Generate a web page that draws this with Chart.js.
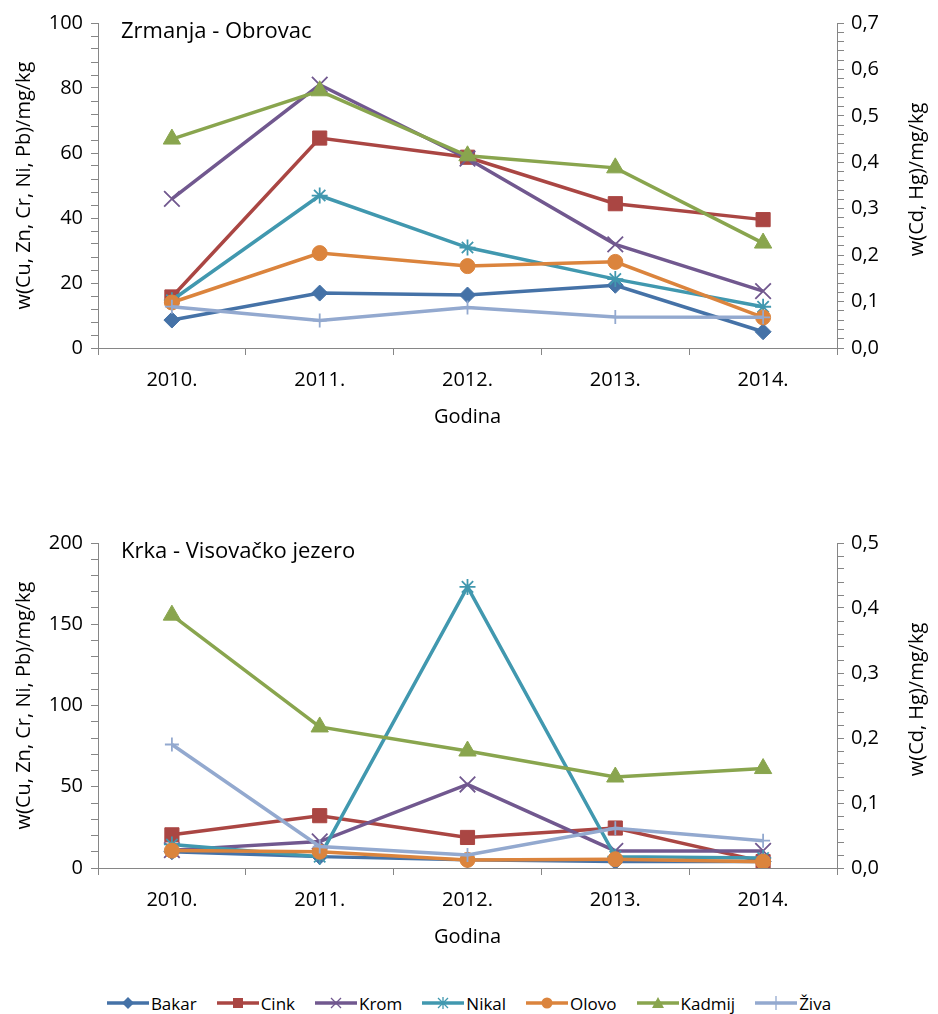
<!DOCTYPE html>
<html>
<head>
<meta charset="utf-8">
<script src="https://cdn.jsdelivr.net/npm/chart.js@4/dist/chart.umd.min.js"></script>
<style>
  html, body { margin: 0; padding: 0; background: #fff; }
  #wrap { position: relative; width: 938px; height: 1014px; }
  .graf { position: absolute; left: 0; width: 938px; height: 450px; }
  #g1 { top: 0; }
  #g2 { top: 520px; }
  #legenda {
    position: absolute; left: 0; top: 990px; width: 938px; height: 26px;
    display: flex; justify-content: center; align-items: center;
    font-family: 'Open Sans', sans-serif; font-size: 17px; color: #000;
  }
  .stavka { display: flex; align-items: center; margin: 0 10px; }
  .stavka svg { margin-right: 2px; }
</style>
</head>
<body>
<div id="wrap">
  <div class="graf" id="g1"><canvas id="c1" width="938" height="450"></canvas></div>
  <div class="graf" id="g2"><canvas id="c2" width="938" height="450"></canvas></div>
  <div id="legenda"></div>
</div>
<script>
// === Data ===
const godine = ['2010.', '2011.', '2012.', '2013.', '2014.'];

// Zrmanja - Obrovac
const zrBakar  = [8.6, 16.9, 16.3, 19.3, 5.0];
const zrCink   = [15.7, 64.6, 58.7, 44.4, 39.5];
const zrKrom   = [45.9, 81.0, 58.3, 31.9, 17.5];
const zrNikal  = [14.7, 46.9, 30.9, 21.2, 12.7];
const zrOlovo  = [14.0, 29.2, 25.2, 26.5, 9.4];
const zrKadmij = [0.450, 0.554, 0.414, 0.388, 0.226];
const zrZiva   = [0.089, 0.059, 0.087, 0.067, 0.066];

// Krka - Visovacko jezero
const krBakar  = [10, 7, 5, 4, 4];
const krCink   = [20.4, 32.2, 18.8, 24.6, 3.9];
const krKrom   = [11, 16.3, 51.4, 10.5, 10.5];
const krNikal  = [14.5, 7, 173, 7, 6.2];
const krOlovo  = [10.7, 10, 5, 5.4, 3.9];
const krKadmij = [0.389, 0.217, 0.180, 0.140, 0.153];
const krZiva   = [0.190, 0.033, 0.020, 0.061, 0.042];

const nazivi = ['Bakar', 'Cink', 'Krom', 'Nikal', 'Olovo', 'Kadmij', 'Živa'];
const boje   = ['#4572A7', '#AA4643', '#71588F', '#4198AF', '#DB843D', '#89A54E', '#93A9CF'];
const oblici = ['rectRot', 'rect', 'crossRot', 'star', 'circle', 'triangle', 'cross'];
const radijusi = [8, 10, 11, 8, 7.5, 10, 7];
const osi = ['y', 'y', 'y', 'y', 'y', 'y1', 'y1'];

const siva = '#868686';
const FONT = "'Open Sans', sans-serif";
Chart.defaults.font.family = FONT;
Chart.defaults.color = '#000';

// === Helpers ===
const zarez = v => v.toFixed(1).replace('.', ',');
const filled = s => !['crossRot', 'star', 'cross'].includes(s);

function skupovi(nizovi) {
  return nizovi.map((d, i) => ({
    label: nazivi[i],
    data: d,
    yAxisID: osi[i],
    borderColor: boje[i],
    backgroundColor: boje[i],
    borderWidth: 3.5,
    pointStyle: oblici[i],
    pointRadius: radijusi[i],
    pointHoverRadius: radijusi[i],
    pointBorderWidth: filled(oblici[i]) ? 1 : 1.8,
    pointBackgroundColor: boje[i],
    pointBorderColor: boje[i],
    tension: 0,
    order: 6 - i           // later series drawn on top, as in Excel
  }));
}

// titles inside the plot + right axis title (bottom-to-top)
const tekstovi = {
  id: 'tekstovi',
  afterDraw(chart, args, o) {
    const { ctx, chartArea } = chart;
    ctx.save();
    ctx.fillStyle = '#000';
    ctx.font = '22px ' + FONT;
    ctx.textAlign = 'left';
    ctx.textBaseline = 'alphabetic';
    ctx.fillText(o.naslov, 121, o.naslovY);
    ctx.font = '20px ' + FONT;
    ctx.translate(o.desnoX, (chartArea.top + chartArea.bottom) / 2 - 6);
    ctx.rotate(-Math.PI / 2);
    ctx.textAlign = 'center';
    ctx.textBaseline = 'middle';
    ctx.fillText('w(Cd, Hg)/mg/kg', 0, 0);
    ctx.restore();
  }
};

function napravi(id, nizovi, naslov, lijevoMax, lijevoKorak, lijevoGlavni, desnoMax) {
  return new Chart(document.getElementById(id), {
    type: 'line',
    data: { labels: godine, datasets: skupovi(nizovi) },
    plugins: [tekstovi],
    options: {
      responsive: false,
      animation: false,
      layout: { padding: { top: 23, left: 0, right: 0, bottom: 0 } },
      plugins: {
        legend: { display: false },
        tooltip: { enabled: false },
        tekstovi: { naslov: naslov, naslovY: 38, desnoX: 917 }
      },
      scales: {
        x: {
          type: 'category',
          offset: true,
          grid: { offset: true, drawOnChartArea: false, drawTicks: true, tickLength: 7, color: siva },
          border: { color: siva },
          ticks: { font: { size: 20 }, padding: 13, maxRotation: 0 },
          title: { display: true, text: 'Godina', font: { size: 20 }, padding: { top: 4, bottom: 21 } },
          afterFit: s => { s.height = 102; }
        },
        y: {
          position: 'left',
          min: 0, max: lijevoMax,
          grid: { drawOnChartArea: false, drawTicks: true, tickLength: 7, color: siva },
          border: { color: siva },
          ticks: {
            stepSize: lijevoKorak, autoSkip: false, font: { size: 20 }, padding: 8,
            callback: v => (v % lijevoGlavni === 0 ? String(v) : '')
          },
          title: { display: true, text: 'w(Cu, Zn, Cr, Ni, Pb)/mg/kg', font: { size: 20 }, padding: { top: 12, bottom: 0 } },
          afterFit: s => { s.width = 98; }
        },
        y1: {
          position: 'right',
          min: 0, max: desnoMax,
          grid: { drawOnChartArea: false, drawTicks: true, tickLength: 7, color: siva },
          border: { color: siva },
          ticks: {
            stepSize: 0.02, autoSkip: false, font: { size: 20 }, padding: 7,
            callback: v => (Math.abs(v * 10 - Math.round(v * 10)) < 1e-6 ? zarez(v) : '')
          },
          afterFit: s => { s.width = 101; }
        }
      }
    }
  });
}

napravi('c1', [zrBakar, zrCink, zrKrom, zrNikal, zrOlovo, zrKadmij, zrZiva],
  'Zrmanja - Obrovac', 100, 4, 20, 0.7);
napravi('c2', [krBakar, krCink, krKrom, krNikal, krOlovo, krKadmij, krZiva],
  'Krka - Visovačko jezero', 200, 10, 50, 0.5);

// === Legend (line + marker, like Excel) ===
function ikona(i) {
  const c = boje[i], cx = 21, cy = 8;
  let m = '';
  switch (oblici[i]) {
    case 'rectRot': m = `<polygon points="${cx},${cy-6} ${cx+6},${cy} ${cx},${cy+6} ${cx-6},${cy}" fill="${c}"/>`; break;
    case 'rect': m = `<rect x="${cx-5}" y="${cy-5}" width="10" height="10" fill="${c}"/>`; break;
    case 'crossRot': m = `<path d="M${cx-5} ${cy-5}L${cx+5} ${cy+5}M${cx-5} ${cy+5}L${cx+5} ${cy-5}" stroke="${c}" stroke-width="1.3"/>`; break;
    case 'star': m = `<path d="M${cx-5} ${cy-5}L${cx+5} ${cy+5}M${cx-5} ${cy+5}L${cx+5} ${cy-5}M${cx} ${cy-6}L${cx} ${cy+6}" stroke="${c}" stroke-width="1.3"/>`; break;
    case 'circle': m = `<circle cx="${cx}" cy="${cy}" r="5.5" fill="${c}"/>`; break;
    case 'triangle': m = `<polygon points="${cx},${cy-6} ${cx+6},${cy+5} ${cx-6},${cy+5}" fill="${c}"/>`; break;
    case 'cross': m = `<path d="M${cx} ${cy-7}L${cx} ${cy+7}" stroke="${c}" stroke-width="1.3"/>`; break;
  }
  return `<svg width="42" height="16"><line x1="0" y1="${cy}" x2="42" y2="${cy}" stroke="${c}" stroke-width="3.5"/>${m}</svg>`;
}
document.getElementById('legenda').innerHTML = nazivi
  .map((n, i) => `<div class="stavka">${ikona(i)}<span>${n}</span></div>`).join('');
</script>
</body>
</html>
